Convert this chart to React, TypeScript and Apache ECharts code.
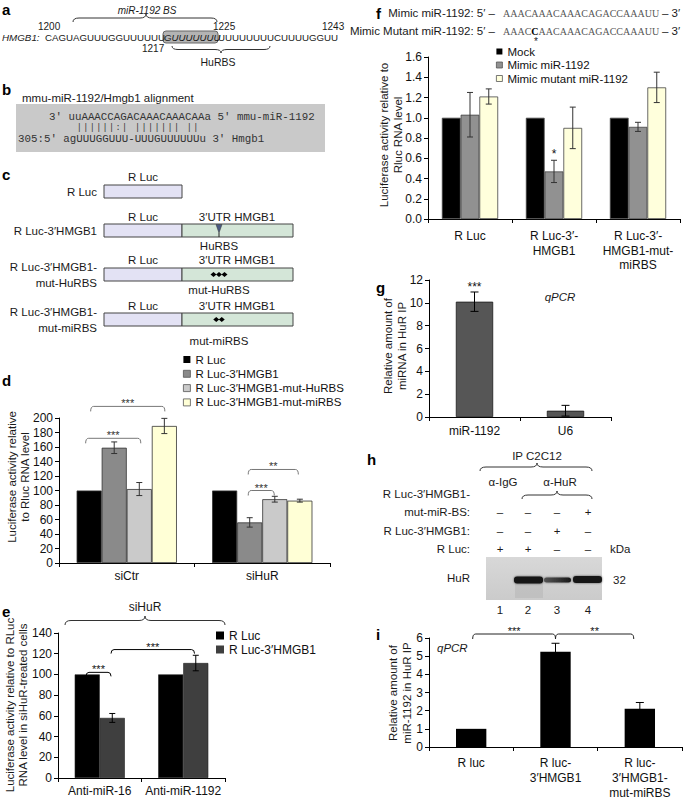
import React, { useEffect, useRef } from 'react';
import * as echarts from 'echarts';

const FF = '"Liberation Sans", Arial, Helvetica, sans-serif';
const MONO = '"Liberation Mono", "Courier New", monospace';
const SERIF = '"Liberation Serif", "Times New Roman", serif';

// ---------- Panel d ----------
const dCategories = ['siCtr', 'siHuR'];
const dSeries = ['R Luc', 'R Luc-3′HMGB1', 'R Luc-3′HMGB1-mut-HuRBS', 'R Luc-3′HMGB1-mut-miRBS'];
const dValues = [[100, 100], [159, 56], [102, 88], [189, 86]];
const dErrors = [[0, 0], [8, 6.5], [9, 4], [10.5, 2]];
const dColors = ['#000000', '#8a8a8a', '#cacaca', '#ffffd6'];
const dBrackets = [[0, -1.44, 0, 1.52, 216], [0, -1.64, 0, 0.56, 172], [1, -0.56, 1, 1.44, 129], [1, -0.56, 1, 0.48, 100]];
const dBracketLabels = ['***', '***', '**', '***'];

// ---------- Panel e ----------
const eCategories = ['Anti-miR-16', 'Anti-miR-1192'];
const eSeries = ['R Luc', 'R Luc-3′HMGB1'];
const eValues = [[100, 100], [58, 111]];
const eErrors = [[0, 0], [4.3, 7.5]];
const eColors = ['#000000', '#3f3f3f'];
const eBrackets = [[0, -0.55, 0, 0.45, 102], [0, 0.45, 1, 0.45, 124]];
const eBracketLabels = ['***', '***'];

// ---------- Panel f ----------
const fCategories = ['R Luc', 'R Luc-3′-\nHMGB1', 'R Luc-3′-\nHMGB1-mut-\nmiRBS'];
const fSeries = ['Mock', 'Mimic miR-1192', 'Mimic mutant miR-1192'];
const fValues = [[1, 1, 1], [1.03, 0.47, 0.91], [1.21, 0.9, 1.3]];
const fErrors = [[0, 0, 0], [0.22, 0.11, 0.045], [0.075, 0.205, 0.15]];
const fColors = ['#000000', '#919191', '#ffffdc'];
const fStars = [[1, 0, 1, 0, 0.64]];
const fStarLabels = ['*'];

// ---------- Panel g ----------
const gCategories = ['miR-1192', 'U6'];
const gValues = [10.1, 0.55];
const gErrors = [0.85, 0.47];
const gStars = [[0, 0, 0, 0, 11.4]];
const gStarLabels = ['***'];

// ---------- Panel i ----------
const iCategories = ['R luc', 'R luc-\n3′HMGB1', 'R luc-\n3′HMGB1-\nmut-miRBS'];
const iValues = [1.0, 5.25, 2.1];
const iErrors = [0, 0.46, 0.35];
const iBrackets = [[0, 0.05, 1, 0, 6.22], [1, 0, 2, -0.2, 6.22]];
const iBracketLabels = ['***', '**'];

// ---------- helpers ----------
function errRenderer(n: number, gap: number, cap: number, color: string) {
  return (params: any, api: any) => {
    const cat = api.value(0), v = api.value(1), e = api.value(2), s = api.value(3);
    const base = api.coord([cat, v]);
    const bw = api.size([1, 0])[0];
    const barW = (bw * (1 - gap)) / n;
    const x = base[0] + (s - (n - 1) / 2) * barW;
    const yTop = api.coord([cat, v + e])[1];
    const yBot = api.coord([cat, v - e])[1];
    const st = { stroke: color, lineWidth: 1 };
    return {
      type: 'group',
      children: [
        { type: 'line', shape: { x1: x, y1: yTop, x2: x, y2: yBot }, style: st },
        { type: 'line', shape: { x1: x - cap, y1: yTop, x2: x + cap, y2: yTop }, style: st },
        { type: 'line', shape: { x1: x - cap, y1: yBot, x2: x + cap, y2: yBot }, style: st },
      ],
    };
  };
}

function annotRenderer(n: number, gap: number, labels: string[], opt: any) {
  return (params: any, api: any) => {
    const i = params.dataIndex;
    const cA = api.value(0), oA = api.value(1), cB = api.value(2), oB = api.value(3), v = api.value(4);
    const bw = api.size([1, 0])[0];
    const barW = (bw * (1 - gap)) / n;
    const pA = api.coord([cA, v]);
    const pB = api.coord([cB, v]);
    const xA = pA[0] + oA * barW;
    const xB = pB[0] + oB * barW;
    const y = pA[1];
    const children: any[] = [];
    if (xB - xA > 2) {
      const r = 3, h = opt.hook;
      const st = { stroke: opt.line, lineWidth: 1, fill: 'none' };
      children.push(
        { type: 'bezierCurve', shape: { x1: xA, y1: y + h, cpx1: xA, cpy1: y, x2: xA + r, y2: y }, style: st },
        { type: 'line', shape: { x1: xA + r, y1: y, x2: xB - r, y2: y }, style: st },
        { type: 'bezierCurve', shape: { x1: xB - r, y1: y, cpx1: xB, cpy1: y, x2: xB, y2: y + h }, style: st },
      );
    }
    children.push({
      type: 'text', x: (xA + xB) / 2, y: y - opt.textOffset,
      style: {
        text: labels[i], fill: opt.text, fontSize: opt.fontSize, fontFamily: FF,
        align: 'center', verticalAlign: 'middle', textAlign: 'center', textVerticalAlign: 'middle',
      },
    });
    return { type: 'group', children };
  };
}

const txt = (x: number, y: number, text: string, o: any = {}) => ({
  type: 'text', x, y, rotation: o.rotation || 0, silent: true,
  style: {
    text, fill: o.fill || '#1a1a1a', fontSize: o.size || 11.5, fontFamily: o.family || FF,
    fontStyle: o.italic ? 'italic' : 'normal', fontWeight: o.bold ? 'bold' : 'normal',
    align: o.align || 'left', verticalAlign: 'middle', textAlign: o.align || 'left', textVerticalAlign: 'middle',
    lineHeight: o.lh || undefined, rich: o.rich || undefined,
  },
});

function brace(x1: number, x2: number, yEnd: number, yTip: number, xt?: number, color = '#333') {
  const xm = xt ?? (x1 + x2) / 2;
  const ym = (yEnd + yTip) / 2;
  const r = Math.min(6, (x2 - x1) / 6);
  const ls = { stroke: color, lineWidth: 1, fill: 'none' };
  return [
    { type: 'bezierCurve', shape: { x1: x1, y1: yEnd, cpx1: x1, cpy1: ym, x2: x1 + r, y2: ym }, style: ls },
    { type: 'line', shape: { x1: x1 + r, y1: ym, x2: xm - r, y2: ym }, style: ls },
    { type: 'bezierCurve', shape: { x1: xm - r, y1: ym, cpx1: xm, cpy1: ym, x2: xm, y2: yTip }, style: ls },
    { type: 'bezierCurve', shape: { x1: xm, y1: yTip, cpx1: xm, cpy1: ym, x2: xm + r, y2: ym }, style: ls },
    { type: 'line', shape: { x1: xm + r, y1: ym, x2: x2 - r, y2: ym }, style: ls },
    { type: 'bezierCurve', shape: { x1: x2 - r, y1: ym, cpx1: x2, cpy1: ym, x2: x2, y2: yEnd }, style: ls },
  ];
}

function buildGraphics() {
  const g: any[] = [];
  // panel letters
  const letters: [string, number, number][] = [['a', 2, 9], ['b', 2, 89], ['c', 2, 174], ['d', 2, 380], ['e', 2, 611], ['f', 376, 13], ['g', 376, 287], ['h', 367, 459], ['i', 376, 634]];
  letters.forEach(([l, x, y]) => g.push(txt(x, y, l, { bold: true, size: 15, fill: '#000' })));

  // ----- panel a -----
  g.push(txt(147, 10, 'miR-1192 BS', { italic: true, align: 'center', size: 10 }));
  g.push(...brace(73, 217, 22, 14, 146));
  g.push(txt(38, 26, '1200', { size: 10 }));
  g.push(txt(213, 26, '1225', { size: 10 }));
  g.push(txt(322, 26, '1243', { size: 10 }));
  g.push({ type: 'rect', shape: { x: 163, y: 31, width: 55, height: 12, r: 3 }, style: { fill: '#b3b3b3', stroke: '#666', lineWidth: 1 } });
  g.push(txt(2, 37, 'HMGB1:', { italic: true, size: 9.8 }));
  g.push(txt(45, 37, 'CAGUAGUUUGGUUUUUU', { size: 9.7 }));
  g.push(txt(164, 37, 'GUUUUUUU', { size: 9.7, italic: true }));
  g.push(txt(218, 37, 'UUUUUUUUCUUUUGGUU', { size: 9.7 }));
  g.push(txt(142, 48, '1217', { size: 10 }));
  g.push(...brace(172, 270, 46, 53, 221));
  g.push(txt(218, 62, 'HuRBS', { align: 'center', size: 10.5 }));

  // ----- panel b -----
  g.push(txt(22, 98, 'mmu-miR-1192/Hmgb1 alignment', { size: 11.5 }));
  g.push({ type: 'rect', shape: { x: 16, y: 104, width: 309, height: 48 }, style: { fill: '#c9c9c9' } });
  g.push(txt(49, 116.5, '3′ uuAAACCAGACAAACAAACAAa 5′ mmu-miR-1192', { family: MONO, size: 10.8, fill: '#333' }));
  const matchLine = '||||||:| ||||||| ||';
  const cw = 6.48;
  for (let k = 0; k < matchLine.length; k++) {
    const ch = matchLine[k];
    if (ch !== ' ') g.push(txt(76 + k * cw + cw / 2, 127.5, ch, { family: MONO, size: 8.5, fill: '#333', align: 'center' }));
  }
  g.push(txt(18, 138.5, '305:5′ agUUUGGUUU-UUUGUUUUUUu 3′ Hmgb1', { family: MONO, size: 10.8, fill: '#333' }));

  // ----- panel c -----
  const cRows = [
    { label: ['R Luc'], top: 185, utr: false, above: 177, sub: '', subY: 0, marker: 0 },
    { label: ['R Luc-3′HMGB1'], top: 224, utr: true, above: 217, sub: 'HuRBS', subY: 246, marker: 1 },
    { label: ['R Luc-3′HMGB1-', 'mut-HuRBS'], top: 268, utr: true, above: 260, sub: 'mut-HuRBS', subY: 290, marker: 3 },
    { label: ['R Luc-3′HMGB1-', 'mut-miRBS'], top: 313, utr: true, above: 306, sub: 'mut-miRBS', subY: 341, marker: 2 },
  ];
  cRows.forEach((r) => {
    const cy = r.top + 6.5;
    if (r.label.length === 1) g.push(txt(97, cy, r.label[0], { align: 'right' }));
    else { g.push(txt(97, cy - 8, r.label[0], { align: 'right' })); g.push(txt(97, cy + 8, r.label[1], { align: 'right' })); }
    g.push({ type: 'rect', shape: { x: 104, y: r.top, width: 78, height: 13 }, style: { fill: '#e3e2f4', stroke: '#444', lineWidth: 1 } });
    g.push(txt(143, r.above, 'R Luc', { align: 'center' }));
    if (r.utr) {
      g.push({ type: 'rect', shape: { x: 182, y: r.top, width: 111, height: 13 }, style: { fill: '#d4e6d8', stroke: '#444', lineWidth: 1 } });
      g.push(txt(237, r.above, '3′UTR HMGB1', { align: 'center' }));
      g.push(txt(219, r.subY, r.sub, { align: 'center' }));
    }
    if (r.marker === 1) {
      g.push({ type: 'polygon', shape: { points: [[216, r.top + 0.5], [222, r.top + 0.5], [219, r.top + 9]] }, style: { fill: '#4b5a82', stroke: '#333', lineWidth: 0.5 } });
      g.push({ type: 'line', shape: { x1: 219, y1: r.top + 9, x2: 219, y2: r.top + 13 }, style: { stroke: '#222', lineWidth: 1 } });
    } else if (r.marker > 1) {
      const n = r.marker;
      for (let k = 0; k < n; k++) {
        const cx = 219 + (k - (n - 1) / 2) * 5.5;
        g.push({ type: 'polygon', shape: { points: [[cx - 3, cy], [cx, cy - 2.6], [cx + 3, cy], [cx, cy + 2.6]] }, style: { fill: '#000' } });
      }
    }
  });

  // ----- y-axis titles -----
  const R = Math.PI / 2;
  g.push(txt(18, 477, 'Luciferase activity relative\nto Rluc RNA level', { rotation: R, align: 'center', lh: 13 }));
  g.push(txt(16, 705, 'Luciferase activity relative to RLuc\nRNA level in siHuR-treated cells', { rotation: R, align: 'center', lh: 13 }));
  g.push(txt(391, 135, 'Luciferase activity relative to\nRluc RNA level', { rotation: R, align: 'center', lh: 14 }));
  g.push(txt(395, 346, 'Relative amount of\nmiRNA in HuR IP', { rotation: R, align: 'center', lh: 14 }));
  g.push(txt(400, 693, 'Relative amount of\nmiR-1192 in HuR IP', { rotation: R, align: 'center', lh: 14 }));

  // ----- panel e header -----
  g.push(txt(145, 607, 'siHuR', { align: 'center', size: 12 }));
  g.push(...brace(65, 225, 625, 616, 145));

  // ----- panel f header -----
  g.push(txt(495, 13, 'Mimic miR-1192: 5′ –', { align: 'right' }));
  g.push(txt(503, 13, 'AAACAAACAAACAGACCAAAUU', { family: SERIF, size: 10, fill: '#555' }));
  g.push(txt(662, 13, '– 3′'));
  g.push(txt(495, 31, 'Mimic Mutant miR-1192: 5′ –', { align: 'right' }));
  g.push(txt(503, 31, 'AAAC{b|C}AACAAACAGACCAAAUU', { family: SERIF, size: 10, fill: '#555', rich: { b: { fill: '#000', color: '#000', fontWeight: 'bold', fontFamily: SERIF, fontSize: 10 } } }));
  g.push(txt(662, 31, '– 3′'));
  g.push(txt(536, 41, '*', { align: 'center', size: 10 }));

  // ----- panel g -----
  g.push(txt(560, 297, 'qPCR', { italic: true, align: 'center' }));

  // ----- panel h -----
  g.push(txt(537, 456, 'IP C2C12', { align: 'center' }));
  g.push(...brace(480, 592, 471, 463, 537));
  g.push(txt(503, 482, 'α-IgG', { align: 'center' }));
  g.push(txt(560, 482, 'α-HuR', { align: 'center' }));
  g.push(...brace(522, 592, 499, 491, 557));
  const lanes = [500, 528, 557, 588];
  const hRows: { label: string; y: number; signs: string[] }[] = [
    { label: 'R Luc-3′HMGB1-', y: 494, signs: [] },
    { label: 'mut-miR-BS:', y: 512, signs: ['–', '–', '–', '+'] },
    { label: 'R Luc-3′HMGB1:', y: 531, signs: ['–', '–', '+', '–'] },
    { label: 'R Luc:', y: 549, signs: ['+', '+', '–', '–'] },
  ];
  hRows.forEach((r) => {
    g.push(txt(470, r.y, r.label, { align: 'right' }));
    r.signs.forEach((s, k) => g.push(txt(lanes[k], r.y, s, { align: 'center' })));
  });
  g.push(txt(610, 549, 'kDa'));
  g.push({
    type: 'rect', shape: { x: 486, y: 557, width: 116, height: 43 },
    style: { fill: new echarts.graphic.LinearGradient(0, 0, 0, 1, [{ offset: 0, color: '#d8d8d8' }, { offset: 1, color: '#cbcbcb' }]) },
  });
  g.push({ type: 'rect', shape: { x: 515, y: 583, width: 28, height: 15 }, style: { fill: 'rgba(0,0,0,0.06)' } });
  g.push({ type: 'rect', shape: { x: 514, y: 576.5, width: 29, height: 7, r: 3 }, style: { fill: '#141414', shadowBlur: 2, shadowColor: 'rgba(0,0,0,0.6)' } });
  g.push({ type: 'rect', shape: { x: 544, y: 577.5, width: 27, height: 5, r: 2.5 }, style: { fill: new echarts.graphic.LinearGradient(0, 0, 1, 0, [{ offset: 0, color: '#555' }, { offset: 1, color: '#1a1a1a' }]), shadowBlur: 2, shadowColor: 'rgba(0,0,0,0.5)' } });
  g.push({ type: 'rect', shape: { x: 573, y: 576, width: 29, height: 7, r: 3 }, style: { fill: '#141414', shadowBlur: 2, shadowColor: 'rgba(0,0,0,0.6)' } });
  g.push(txt(470, 578, 'HuR', { align: 'right' }));
  g.push(txt(613, 580, '32'));
  lanes.forEach((x, k) => g.push(txt(x, 610, String(k + 1), { align: 'center' })));

  // ----- panel i -----
  g.push(txt(437, 648, 'qPCR', { italic: true }));
  return g;
}

const grids = [
  { left: 59, top: 418, width: 271, height: 145 }, // d
  { left: 58, top: 633, width: 167, height: 145 }, // e
  { left: 428, top: 57, width: 252, height: 162 }, // f
  { left: 429, top: 280, width: 182, height: 137 }, // g
  { left: 429, top: 638, width: 253, height: 115 }, // i
];

function xAx(k: number, data: string[], margin: number, lh = 14) {
  return {
    type: 'category', gridIndex: k, data,
    axisLine: { show: true, lineStyle: { color: '#000', width: 1 } },
    axisTick: { show: true, length: 4, lineStyle: { color: '#000' } },
    axisLabel: { color: '#111', fontSize: 12, fontFamily: FF, margin, lineHeight: lh, interval: 0 },
    splitLine: { show: false },
  };
}
function yAx(k: number, min: number, max: number, interval: number, fmt?: (v: number) => string) {
  return {
    type: 'value', gridIndex: k, min, max, interval,
    axisLine: { show: true, lineStyle: { color: '#000', width: 1 } },
    axisTick: { show: true, length: 4, lineStyle: { color: '#000' } },
    axisLabel: { color: '#111', fontSize: 12, fontFamily: FF, margin: 6, formatter: fmt },
    splitLine: { show: false },
  };
}

function buildOption() {
  const series: any[] = [];
  const GD = 0.26, GE = 0.4, GF = 0.33, GG = 0.59, GI = 0.64;
  // d
  dSeries.forEach((name, s) => series.push({
    type: 'bar', name, xAxisIndex: 0, yAxisIndex: 0, data: dValues[s], barGap: '0%', barCategoryGap: GD * 100 + '%',
    itemStyle: { color: dColors[s], borderColor: '#333', borderWidth: 0.8 },
  }));
  const dErr: number[][] = [];
  dValues.forEach((vals, s) => vals.forEach((v, c) => { if (dErrors[s][c] > 0) dErr.push([c, v, dErrors[s][c], s]); }));
  series.push({ type: 'custom', name: '_derr', xAxisIndex: 0, yAxisIndex: 0, coordinateSystem: 'cartesian2d', renderItem: errRenderer(4, GD, 3, '#333'), data: dErr, encode: { x: 0, y: 1 }, z: 5 });
  series.push({ type: 'custom', name: '_dbr', xAxisIndex: 0, yAxisIndex: 0, coordinateSystem: 'cartesian2d', clip: false, renderItem: annotRenderer(4, GD, dBracketLabels, { hook: 5, line: '#777', text: '#333', fontSize: 11, textOffset: 3 }), data: dBrackets, encode: { x: 0, y: 4 }, z: 5 });
  // e
  eSeries.forEach((name, s) => series.push({
    type: 'bar', name, xAxisIndex: 1, yAxisIndex: 1, data: eValues[s], barGap: '0%', barCategoryGap: GE * 100 + '%',
    itemStyle: { color: eColors[s], borderColor: '#222', borderWidth: 0.6 },
  }));
  const eErr: number[][] = [];
  eValues.forEach((vals, s) => vals.forEach((v, c) => { if (eErrors[s][c] > 0) eErr.push([c, v, eErrors[s][c], s]); }));
  series.push({ type: 'custom', name: '_eerr', xAxisIndex: 1, yAxisIndex: 1, coordinateSystem: 'cartesian2d', renderItem: errRenderer(2, GE, 3, '#000'), data: eErr, encode: { x: 0, y: 1 }, z: 5 });
  series.push({ type: 'custom', name: '_ebr', xAxisIndex: 1, yAxisIndex: 1, coordinateSystem: 'cartesian2d', clip: false, renderItem: annotRenderer(2, GE, eBracketLabels, { hook: 4, line: '#000', text: '#111', fontSize: 11, textOffset: 3 }), data: eBrackets, encode: { x: 0, y: 4 }, z: 5 });
  // f
  fSeries.forEach((name, s) => series.push({
    type: 'bar', name, xAxisIndex: 2, yAxisIndex: 2, data: fValues[s], barGap: '0%', barCategoryGap: GF * 100 + '%',
    itemStyle: { color: fColors[s], borderColor: '#444', borderWidth: 0.8 },
  }));
  const fErr: number[][] = [];
  fValues.forEach((vals, s) => vals.forEach((v, c) => { if (fErrors[s][c] > 0) fErr.push([c, v, fErrors[s][c], s]); }));
  series.push({ type: 'custom', name: '_ferr', xAxisIndex: 2, yAxisIndex: 2, coordinateSystem: 'cartesian2d', renderItem: errRenderer(3, GF, 3, '#333'), data: fErr, encode: { x: 0, y: 1 }, z: 5 });
  series.push({ type: 'custom', name: '_fst', xAxisIndex: 2, yAxisIndex: 2, coordinateSystem: 'cartesian2d', clip: false, renderItem: annotRenderer(3, GF, fStarLabels, { hook: 0, line: '#000', text: '#111', fontSize: 12, textOffset: 0 }), data: fStars, encode: { x: 0, y: 4 }, z: 5 });
  // g
  series.push({ type: 'bar', name: 'miRNA', xAxisIndex: 3, yAxisIndex: 3, data: gValues, barCategoryGap: GG * 100 + '%', itemStyle: { color: '#565656', borderColor: '#1a1a1a', borderWidth: 0.8 } });
  series.push({ type: 'custom', name: '_gerr', xAxisIndex: 3, yAxisIndex: 3, coordinateSystem: 'cartesian2d', renderItem: errRenderer(1, GG, 4, '#000'), data: gValues.map((v, c) => [c, v, gErrors[c], 0]), encode: { x: 0, y: 1 }, z: 5 });
  series.push({ type: 'custom', name: '_gst', xAxisIndex: 3, yAxisIndex: 3, coordinateSystem: 'cartesian2d', clip: false, renderItem: annotRenderer(1, GG, gStarLabels, { hook: 0, line: '#000', text: '#111', fontSize: 12, textOffset: 0 }), data: gStars, encode: { x: 0, y: 4 }, z: 5 });
  // i
  series.push({ type: 'bar', name: 'miR-1192', xAxisIndex: 4, yAxisIndex: 4, data: iValues, barCategoryGap: GI * 100 + '%', itemStyle: { color: '#000' } });
  const iErr: number[][] = [];
  iValues.forEach((v, c) => { if (iErrors[c] > 0) iErr.push([c, v, iErrors[c], 0]); });
  series.push({ type: 'custom', name: '_ierr', xAxisIndex: 4, yAxisIndex: 4, coordinateSystem: 'cartesian2d', renderItem: errRenderer(1, GI, 4, '#000'), data: iErr, encode: { x: 0, y: 1 }, z: 5 });
  series.push({ type: 'custom', name: '_ibr', xAxisIndex: 4, yAxisIndex: 4, coordinateSystem: 'cartesian2d', clip: false, renderItem: annotRenderer(1, GI, iBracketLabels, { hook: 5, line: '#222', text: '#111', fontSize: 11, textOffset: 3 }), data: iBrackets, encode: { x: 0, y: 4 }, z: 5 });

  const legendText = { fontSize: 11.5, fontFamily: FF, color: '#111', lineHeight: 13 };
  return {
    animation: false,
    backgroundColor: '#ffffff',
    textStyle: { fontFamily: FF },
    grid: grids,
    xAxis: [
      xAx(0, dCategories, 6),
      xAx(1, eCategories, 6),
      xAx(2, fCategories, 10, 14.5),
      xAx(3, gCategories, 7),
      xAx(4, iCategories, 8, 15),
    ],
    yAxis: [
      yAx(0, 0, 200, 20),
      yAx(1, 0, 140, 20),
      yAx(2, 0, 1.6, 0.2, (v: number) => v.toFixed(1)),
      yAx(3, 0, 12, 2),
      yAx(4, 0, 6, 1),
    ],
    legend: [
      {
        orient: 'vertical', left: 183, top: 353, padding: 0, itemWidth: 7, itemHeight: 7, itemGap: 1.3, icon: 'rect', selectedMode: false,
        textStyle: legendText,
        data: dSeries.map((name, s) => ({ name, itemStyle: { color: dColors[s], borderColor: s ? '#555' : '#000', borderWidth: s ? 0.8 : 0 } })),
      },
      {
        orient: 'vertical', left: 216, top: 629, padding: 0, itemWidth: 8, itemHeight: 8, itemGap: 1, icon: 'rect', selectedMode: false,
        textStyle: { ...legendText, fontSize: 12 },
        data: eSeries.map((name, s) => ({ name, itemStyle: { color: eColors[s], borderWidth: 0 } })),
      },
      {
        orient: 'vertical', left: 496, top: 45, padding: 0, itemWidth: 6, itemHeight: 6, itemGap: 0.5, icon: 'rect', selectedMode: false,
        textStyle: legendText,
        data: fSeries.map((name, s) => ({ name, itemStyle: { color: fColors[s], borderColor: s ? '#555' : '#000', borderWidth: s ? 0.8 : 0 } })),
      },
    ],
    graphic: { elements: buildGraphics() },
    series,
  };
}

export default function App() {
  const ref = useRef<HTMLDivElement>(null);
  useEffect(() => {
    if (!ref.current) return;
    const chart = echarts.init(ref.current, undefined, { renderer: 'svg' });
    chart.setOption(buildOption() as any);
    return () => chart.dispose();
  }, []);
  return (
    <div
      ref={ref}
      style={{ position: 'fixed', left: 0, top: 0, width: 685, height: 800, background: '#fff' }}
    />
  );
}
